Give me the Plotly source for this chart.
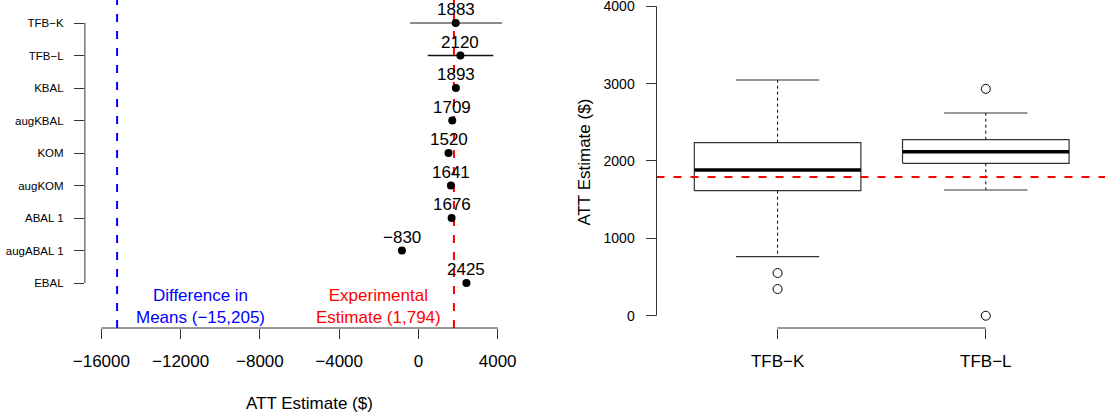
import plotly.graph_objects as go

# ---------------- data ----------------
methods = ["TFB\u2212K", "TFB\u2212L", "KBAL", "augKBAL", "KOM", "augKOM",
           "ABAL 1", "augABAL 1", "EBAL"]
estimates = [1883, 2120, 1893, 1709, 1520, 1641, 1676, -830, 2425]
ci_methods = ["TFB\u2212K", "TFB\u2212L"]
ci_low = [-420, 470]
ci_high = [4220, 3780]
experimental = 1794
diff_means = -15205
x_ticks_left = [-16000, -12000, -8000, -4000, 0, 4000]

box_groups = ["TFB\u2212K", "TFB\u2212L"]
box_lower = [763, 1625]
box_q1 = [1616, 1970]
box_median = [1883, 2120]
box_q3 = [2237, 2275]
box_upper = [3047, 2620]
box_outliers = [[552, 345], [2932, 0]]
y_ticks_right = [0, 1000, 2000, 3000, 4000]

# ---------------- style ----------------
FONT = "Liberation Sans, Arial, sans-serif"
AX = "#333333"
BLUE = "#0000FF"
RED = "#FF0000"
W, H = 1105, 415
BOTTOM = 1 - 328 / H


def minus(v):
    return str(v).replace("-", "\u2212")


n = len(methods)
ypos = list(range(n, 0, -1))
pos_of = dict(zip(methods, ypos))

fig = go.Figure()

# error intervals (left)
ci_cols = ["#666666", "#111111"]
for m, lo, hi, c in zip(ci_methods, ci_low, ci_high, ci_cols):
    fig.add_trace(go.Scatter(x=[lo, hi], y=[pos_of[m], pos_of[m]], mode="lines",
                             line=dict(color=c, width=1.3), xaxis="x", yaxis="y",
                             showlegend=False, hoverinfo="skip"))

# points
fig.add_trace(go.Scatter(x=estimates, y=ypos, mode="markers",
                         marker=dict(color="black", size=8),
                         xaxis="x", yaxis="y", showlegend=False))

# number labels
for v, y in zip(estimates, ypos):
    fig.add_annotation(x=v, y=y, xref="x", yref="y", text=minus(v), showarrow=False,
                       yshift=13.5, yanchor="middle", xanchor="center",
                       font=dict(family=FONT, size=17, color="black"))

# text annotations left
fig.add_annotation(x=-11000, y=0.28, xref="x", yref="y", xanchor="center",
                   text="Difference in<br>Means (" + minus(f"{diff_means:,}") + ")",
                   showarrow=False, font=dict(family=FONT, size=17, color=BLUE))
fig.add_annotation(x=-2000, y=0.28, xref="x", yref="y", xanchor="center",
                   text="Experimental<br>Estimate (" + f"{experimental:,}" + ")",
                   showarrow=False, font=dict(family=FONT, size=17, color=RED))

# reference lines left
fig.add_shape(type="line", xref="x", yref="y domain", x0=diff_means, x1=diff_means,
              y0=0, y1=1, line=dict(color=BLUE, width=2, dash="8px,9px"), layer="below")
fig.add_shape(type="line", xref="x", yref="y domain", x0=experimental, x1=experimental,
              y0=0, y1=1, line=dict(color=RED, width=2, dash="8px,9px"), layer="below")

# axis lines left (R style, over tick range)
fig.add_shape(type="line", xref="x", yref="y domain", x0=x_ticks_left[0], x1=x_ticks_left[-1],
              y0=0, y1=0, line=dict(color=AX, width=1))
fig.add_shape(type="line", xref="x domain", yref="y", x0=0, x1=0,
              y0=min(ypos), y1=max(ypos), line=dict(color=AX, width=1))

# ---------------- boxplots (right) ----------------
BH = 0.4   # half box width
CH = 0.2   # half cap width
for i, g in enumerate(box_groups):
    c = i + 1
    fig.add_trace(go.Scatter(x=[c - BH, c + BH, c + BH, c - BH, c - BH],
                             y=[box_q1[i], box_q1[i], box_q3[i], box_q3[i], box_q1[i]],
                             mode="lines", line=dict(color=AX, width=1.2),
                             xaxis="x2", yaxis="y2", showlegend=False, hoverinfo="skip"))
    fig.add_trace(go.Scatter(x=[c - BH, c + BH], y=[box_median[i], box_median[i]],
                             mode="lines", line=dict(color="black", width=3.5),
                             xaxis="x2", yaxis="y2", showlegend=False, hoverinfo="skip"))
    fig.add_trace(go.Scatter(x=[c, c, None, c, c],
                             y=[box_q3[i], box_upper[i], None, box_q1[i], box_lower[i]],
                             mode="lines", line=dict(color="black", width=1, dash="3px,3px"),
                             xaxis="x2", yaxis="y2", showlegend=False, hoverinfo="skip"))
    fig.add_trace(go.Scatter(x=[c - CH, c + CH, None, c - CH, c + CH],
                             y=[box_upper[i], box_upper[i], None, box_lower[i], box_lower[i]],
                             mode="lines", line=dict(color=AX, width=1.2),
                             xaxis="x2", yaxis="y2", showlegend=False, hoverinfo="skip"))
    fig.add_trace(go.Scatter(x=[c] * len(box_outliers[i]), y=box_outliers[i], mode="markers",
                             marker=dict(symbol="circle-open", size=9, color="black",
                                         line=dict(width=1)),
                             xaxis="x2", yaxis="y2", showlegend=False))

fig.add_shape(type="line", xref="x2 domain", yref="y2", x0=0, x1=1,
              y0=experimental, y1=experimental,
              line=dict(color=RED, width=2, dash="8px,9px"))
fig.add_shape(type="line", xref="x2", yref="y2 domain", x0=1, x1=len(box_groups),
              y0=0, y1=0, line=dict(color=AX, width=1))
fig.add_shape(type="line", xref="x2 domain", yref="y2", x0=0, x1=0,
              y0=y_ticks_right[0], y1=y_ticks_right[-1], line=dict(color=AX, width=1))

# titles
fig.add_annotation(x=309.5 / W, y=1 - 403.3 / H, xref="paper", yref="paper",
                   xanchor="center", yanchor="middle",
                   text="ATT Estimate ($)", showarrow=False,
                   font=dict(family=FONT, size=17, color="black"))
fig.add_annotation(x=583.6 / W, y=1 - 162 / H, xref="paper", yref="paper",
                   xanchor="center", yanchor="middle",
                   text="ATT Estimate ($)", showarrow=False, textangle=-90,
                   font=dict(family=FONT, size=17, color="black"))

common_axis = dict(showgrid=False, zeroline=False, showline=False, ticks="outside",
                   ticklen=10, tickwidth=1, tickcolor=AX, automargin=False,
                   ticklabeloverflow="allow")

fig.update_layout(
    width=W, height=H, margin=dict(l=0, r=0, t=0, b=0, pad=0, autoexpand=False),
    paper_bgcolor="white", plot_bgcolor="white", showlegend=False,
    font=dict(family=FONT, color="black"),
    xaxis=dict(domain=[84.9 / W, 513.5 / W], range=[-16830, 4800],
               tickvals=x_ticks_left, ticktext=[minus(t) for t in x_ticks_left],
               tickfont=dict(size=17), ticklabelstandoff=8, anchor="y", **common_axis),
    yaxis=dict(domain=[BOTTOM, 1], range=[-0.3846, 9.7077],
               tickvals=ypos, ticktext=methods, tickfont=dict(size=11.5),
               ticklabelstandoff=8, anchor="x", **common_axis),
    xaxis2=dict(domain=[656.5 / W, 1.0], range=[0.4184, 2.5725],
                tickvals=list(range(1, len(box_groups) + 1)), ticktext=box_groups,
                tickfont=dict(size=17), ticklabelstandoff=8, anchor="y2", **common_axis),
    yaxis2=dict(domain=[BOTTOM, 1], range=[-159, 4081],
                tickvals=y_ticks_right, ticktext=[str(t) for t in y_ticks_right],
                tickfont=dict(size=14), ticklabelstandoff=8, anchor="x2", **common_axis),
)

fig.write_html("out.html")
